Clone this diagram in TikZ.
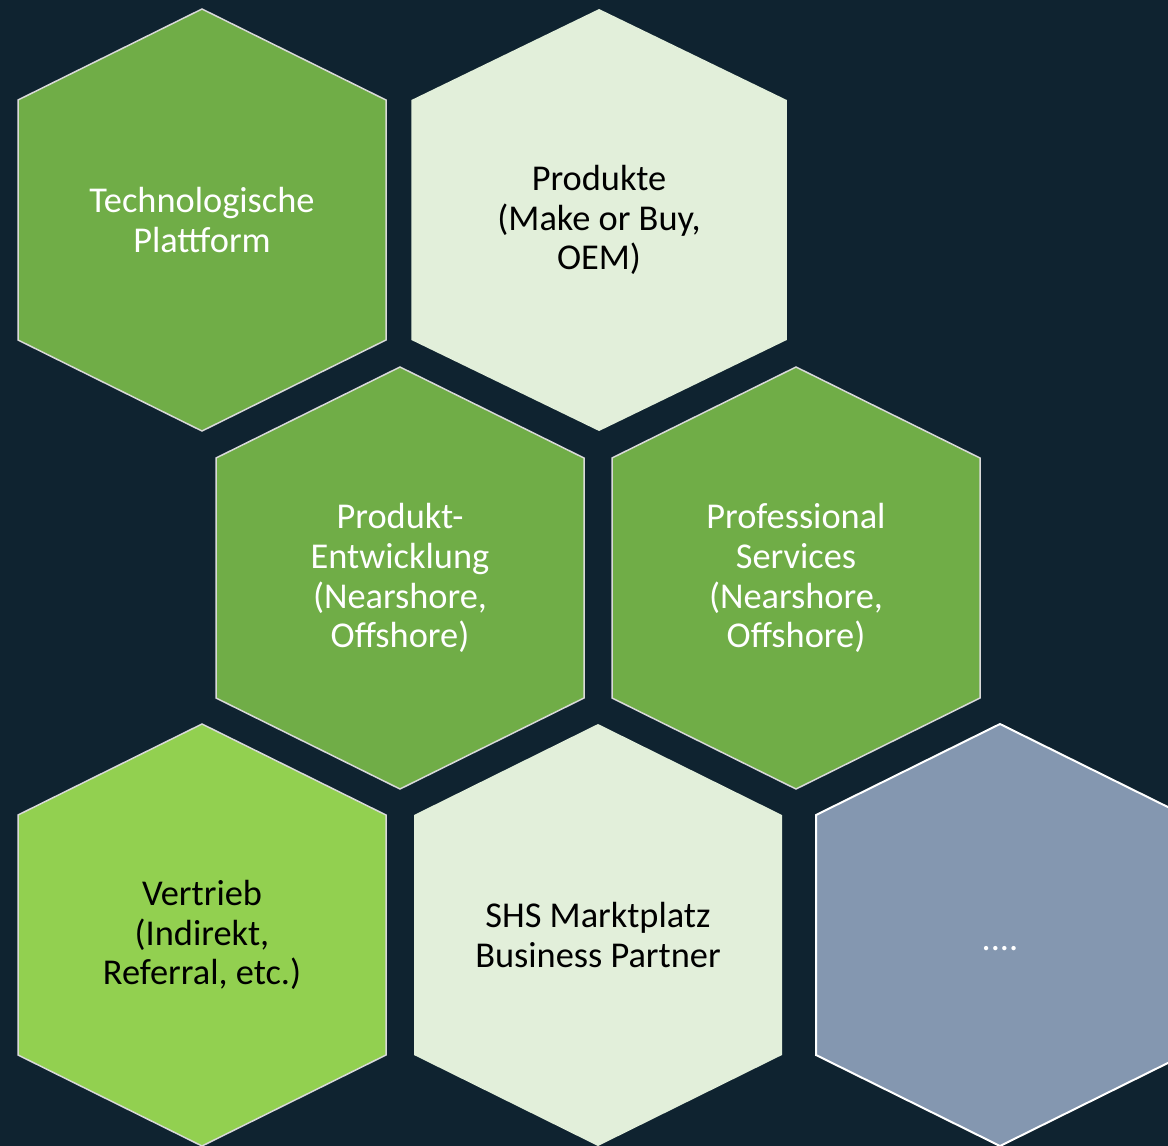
\documentclass[tikz,border=0pt]{standalone}
\usepackage{fontspec}
\setmainfont{Carlito}
\usetikzlibrary{calc}

\definecolor{fundo}{HTML}{0F2330}
\definecolor{verde}{HTML}{70AD47}
\definecolor{verdeclaro}{HTML}{E2EFDA}
\definecolor{verdevivo}{HTML}{92D050}
\definecolor{cinzaazul}{HTML}{8497B0}
\definecolor{borda}{HTML}{D9D9D9}

% favo: #1 = centro, #2 = estilo
\newcommand{\favo}[2]{%
  \path[#2,shift={(#1)}] (0,-211) -- (184,-120) -- (184,120) -- (0,211)
    -- (-184,120) -- (-184,-120) -- cycle;}

\tikzset{
  escuro/.style={fill=verde,draw=borda,line width=1.5bp},
  claro/.style={fill=verdeclaro},
  vivo/.style={fill=verdevivo,draw=borda,line width=1.5bp},
  azul/.style={fill=cinzaazul,draw=white,line width=2bp},
  rotulo/.style={align=center,font={\fontsize{36.5}{40}\selectfont}}
}

\begin{document}
\begin{tikzpicture}[x=1bp,y=-1bp]

  % area da figura e fundo
  \useasboundingbox (0,0) rectangle (1168,1146);
  \clip (0,0) rectangle (1168,1146);
  \fill[fundo] (0,0) rectangle (1168,1146);

  % centros dos favos
  \coordinate (H1) at (202,220);
  \coordinate (H2) at (599,220);
  \coordinate (H3) at (400,578);
  \coordinate (H4) at (796,578);
  \coordinate (H5) at (202,935);
  \coordinate (H6) at (598,935);
  \coordinate (H7) at (1000,935);

  % primeira fila
  \favo{H1}{escuro}
  \favo{H2}{claro,xscale=1.02}
  \node[rotulo,text=white] (plattform) at (H1) {Technologische\\Plattform};
  \node[rotulo,text=black] (produkte) at (H2) {Produkte\\(Make or Buy,\\OEM)};

  % segunda fila
  \favo{H3}{escuro}
  \favo{H4}{escuro}
  \node[rotulo,text=white] (entwicklung) at (H3)
    {Produkt-\\Entwicklung\\(Nearshore,\\Offshore)};
  \node[rotulo,text=white] (services) at (H4)
    {Professional\\Services\\(Nearshore,\\Offshore)};

  % terceira fila
  \favo{H5}{vivo}
  \favo{H6}{claro}
  \favo{H7}{azul}
  \node[rotulo,text=black] (vertrieb) at (H5) {Vertrieb\\(Indirekt,\\Referral, etc.)};
  \node[rotulo,text=black] (marktplatz) at (H6) {SHS Marktplatz\\Business Partner};
  \node[rotulo,text=white,yshift=-8bp] (mais) at (H7) {\strut....};

\end{tikzpicture}
\end{document}
